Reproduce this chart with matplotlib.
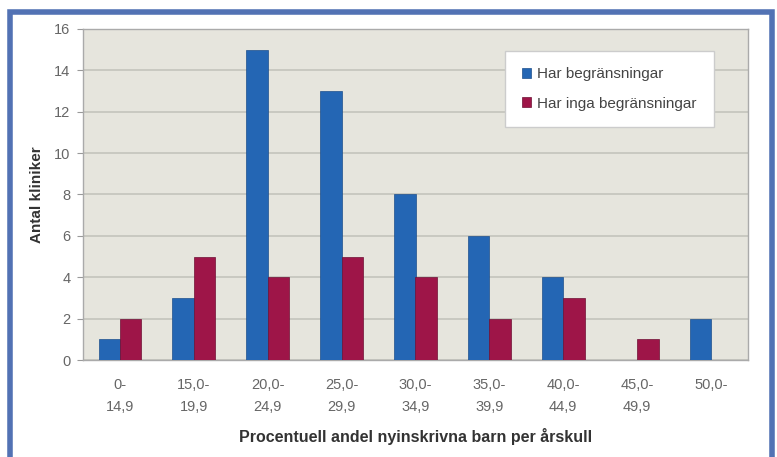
import matplotlib
matplotlib.use("Agg")
import matplotlib.pyplot as plt
import numpy as np
from matplotlib.patches import Rectangle

categories = ["0-\n14,9", "15,0-\n19,9", "20,0-\n24,9", "25,0-\n29,9", "30,0-\n34,9",
              "35,0-\n39,9", "40,0-\n44,9", "45,0-\n49,9", "50,0-"]
har_begr = [1, 3, 15, 13, 8, 6, 4, 0, 2]
har_inga = [2, 5, 4, 5, 4, 2, 3, 1, 0]
series_names = ["Har begränsningar", "Har inga begränsningar"]

plt.rcParams['font.family'] = ['Liberation Sans', 'DejaVu Sans']

fig = plt.figure(figsize=(7.77, 4.57), dpi=100)
fig.patch.set_facecolor("white")

# blue frame
frame = Rectangle((10/777, -0.05), (772-10)/777, 1 - 11.5/457 + 0.05,
                  transform=fig.transFigure, fill=False, edgecolor="#5272b4",
                  linewidth=4, zorder=0)
fig.patches.append(frame)

ax = fig.add_axes([83/777, 1-360/457, (748-83)/777, (360-29)/457])
ax.set_facecolor("#e6e5dd")

x = np.arange(len(categories))
w = 0.29
ax.bar(x - w/2, har_begr, width=w, color="#2466b4", edgecolor="#1d4f8c", linewidth=0.5,
       label=series_names[0], zorder=3)
ax.bar(x + w/2, har_inga, width=w, color="#9e1548", edgecolor="#6e1034", linewidth=0.5,
       label=series_names[1], zorder=3)

ax.set_xlim(-0.5, len(categories) - 0.5)
ax.set_ylim(0, 16)
ax.set_yticks(range(0, 17, 2))
ax.yaxis.grid(True, color="#c4c4bc", linewidth=1.2, zorder=1)
ax.set_axisbelow(True)
ax.set_xticks(x)
ax.set_xticklabels(categories, fontsize=10.5, color="#666666", linespacing=1.75)
ax.tick_params(axis='y', labelsize=10.5, labelcolor="#666666", color="#999999", length=4, pad=5)
ax.tick_params(axis='x', length=0, pad=13)
for s in ax.spines.values():
    s.set_color("#aaaaaa")
    s.set_linewidth(1)

ax.set_ylabel("Antal kliniker", fontsize=11, fontweight="bold", color="#333333", labelpad=7)
ax.set_xlabel("Procentuell andel nyinskrivna barn per årskull", fontsize=11.5,
              fontweight="bold", color="#333333", labelpad=10)

leg = ax.legend(loc="upper left", bbox_to_anchor=(0.635, 0.935), fontsize=11,
                frameon=True, fancybox=False, edgecolor="#cccccc", facecolor="white",
                framealpha=1, handlelength=0.6, handleheight=0.6, labelspacing=1.0,
                borderpad=1.1, handletextpad=0.4, borderaxespad=0)
for t in leg.get_texts():
    t.set_color("#444444")

fig.savefig("out.png", dpi=100)
